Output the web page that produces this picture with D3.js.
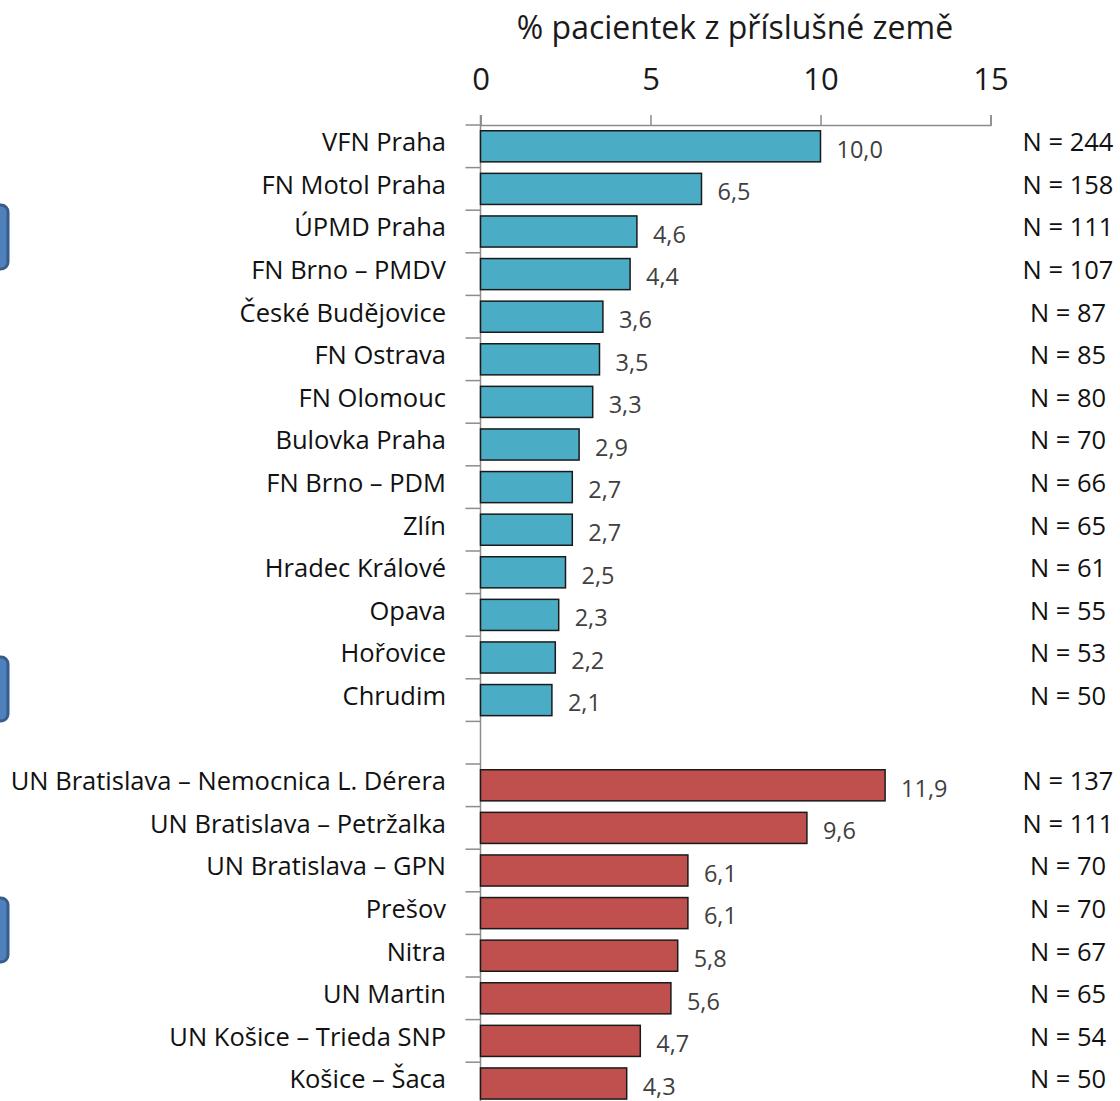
<!DOCTYPE html>
<html>
<head>
<meta charset="utf-8">
<script src="https://cdn.jsdelivr.net/npm/d3@7"></script>
<style>
  body { margin: 0; background: #fff; }
  svg { display: block; font-family: "Open Sans", "Noto Sans", sans-serif; }
</style>
</head>
<body>
<div id="chart"></div>
<script>
// Czech centres
var czNames = ['VFN Praha', 'FN Motol Praha', 'ÚPMD Praha', 'FN Brno – PMDV', 'České Budějovice',
  'FN Ostrava', 'FN Olomouc', 'Bulovka Praha', 'FN Brno – PDM', 'Zlín', 'Hradec Králové',
  'Opava', 'Hořovice', 'Chrudim'];
var czValues = [10.0, 6.5, 4.6, 4.4, 3.6, 3.5, 3.3, 2.9, 2.7, 2.7, 2.5, 2.3, 2.2, 2.1];
var czN = [244, 158, 111, 107, 87, 85, 80, 70, 66, 65, 61, 55, 53, 50];

// Slovak centres
var skNames = ['UN Bratislava – Nemocnica L. Dérera', 'UN Bratislava – Petržalka', 'UN Bratislava – GPN',
  'Prešov', 'Nitra', 'UN Martin', 'UN Košice – Trieda SNP', 'Košice – Šaca'];
var skValues = [11.9, 9.6, 6.1, 6.1, 5.8, 5.6, 4.7, 4.3];
var skN = [137, 111, 70, 70, 67, 65, 54, 50];

var xTicks = [0, 5, 10, 15];
var title = '% pacientek z příslušné země';

var rows = [];
czNames.forEach(function(d, i) { rows.push({key: 'cz' + i, name: d, value: czValues[i], n: czN[i], color: '#4BACC6'}); });
rows.push({key: 'gap', name: '', value: null});
skNames.forEach(function(d, i) { rows.push({key: 'sk' + i, name: d, value: skValues[i], n: skN[i], color: '#C0504D'}); });

var width = 1120, height = 1101;
var svg = d3.select('#chart').append('svg')
    .attr('width', width)
    .attr('height', height);

// side buttons cut off at the left edge
[205, 657, 898].forEach(function(top) {
  svg.append('rect')
    .attr('x', -20).attr('y', top)
    .attr('width', 28).attr('height', 64)
    .attr('rx', 7)
    .attr('fill', '#4F81BD')
    .attr('stroke', '#385D8A')
    .attr('stroke-width', 3);
});

var x = d3.scaleLinear().domain([0, 15]).range([480.5, 990.5]);
var y = d3.scaleBand()
    .domain(rows.map(function(d) { return d.key; }))
    .range([125, 125 + rows.length * 42.6])
    .paddingInner(0.27)
    .paddingOuter(0.135);

svg.append('text')
    .attr('x', 735).attr('y', 39)
    .attr('text-anchor', 'middle')
    .attr('font-size', 32)
    .attr('fill', '#1a1a1a')
    .text(title);

var xAxis = svg.append('g')
    .attr('transform', 'translate(0,125)')
    .call(d3.axisTop(x).tickValues(xTicks).tickSize(10).tickSizeOuter(10).tickPadding(25));
xAxis.selectAll('path, line').attr('stroke', '#8c8c8c').attr('stroke-width', 1.5);
xAxis.selectAll('text')
    .attr('font-size', 31)
    .attr('font-family', '"Open Sans", sans-serif')
    .attr('fill', '#1a1a1a');

// category axis with ticks between rows
var boundaries = d3.range(rows.length + 1).map(function(i) { return y.range()[0] + i * y.step(); });
var yAxis = svg.append('g');
yAxis.append('line')
    .attr('x1', x(0)).attr('x2', x(0))
    .attr('y1', 115).attr('y2', height)
    .attr('stroke', '#8c8c8c').attr('stroke-width', 1.5);
yAxis.selectAll('.tick')
  .data(boundaries)
  .join('line')
    .attr('x1', x(0) - 15).attr('x2', x(0))
    .attr('y1', function(d) { return d; }).attr('y2', function(d) { return d; })
    .attr('stroke', '#8c8c8c').attr('stroke-width', 1.5);

var data = rows.filter(function(d) { return d.value !== null; });

svg.selectAll('.bar')
  .data(data)
  .join('rect')
    .attr('x', x(0))
    .attr('y', function(d) { return y(d.key); })
    .attr('width', function(d) { return x(d.value) - x(0); })
    .attr('height', y.bandwidth())
    .attr('fill', function(d) { return d.color; })
    .attr('stroke', '#1a1a1a')
    .attr('stroke-width', 1.5);

svg.selectAll('.cat')
  .data(data)
  .join('text')
    .attr('x', 446)
    .attr('y', function(d) { return y(d.key) + y.bandwidth() / 2 - 4; })
    .attr('dy', '0.35em')
    .attr('text-anchor', 'end')
    .attr('font-size', 25.5)
    .attr('fill', '#111')
    .text(function(d) { return d.name; });

svg.selectAll('.val')
  .data(data)
  .join('text')
    .attr('x', function(d) { return x(d.value) + 16; })
    .attr('y', function(d) { return y(d.key) + y.bandwidth() / 2 + 3; })
    .attr('dy', '0.35em')
    .attr('font-size', 23.5)
    .attr('fill', '#404040')
    .text(function(d) { return d3.format('.1f')(d.value).replace('.', ','); });

svg.selectAll('.n')
  .data(data)
  .join('text')
    .attr('x', 1068)
    .attr('y', function(d) { return y(d.key) + y.bandwidth() / 2 - 4; })
    .attr('dy', '0.35em')
    .attr('text-anchor', 'middle')
    .attr('font-size', 25.5)
    .attr('fill', '#111')
    .text(function(d) { return 'N = ' + d.n; });
</script>
</body>
</html>
